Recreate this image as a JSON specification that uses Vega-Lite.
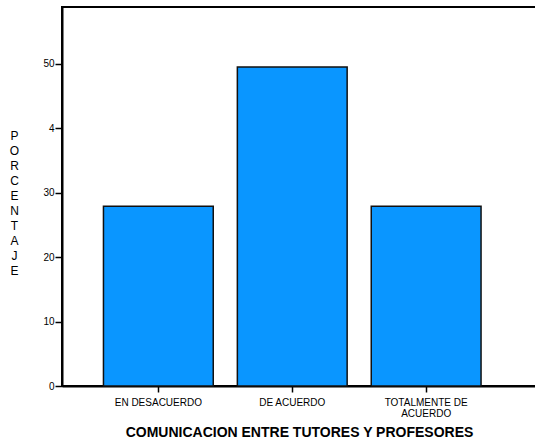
{
  "$schema": "https://vega.github.io/schema/vega-lite/v6.json",
  "autosize": {"type": "none"},
  "width": 474,
  "height": 379,
  "padding": {"left": 62, "top": 7, "right": 0, "bottom": 55},
  "background": "white",
  "data": {"values": [
    {"categoria": "EN DESACUERDO", "porcentaje": 27.9},
    {"categoria": "DE ACUERDO", "porcentaje": 49.5},
    {"categoria": "TOTALMENTE DE ACUERDO", "porcentaje": 27.9}
  ]},
  "config": {
    "font": "Liberation Sans",
    "view": {"stroke": "black", "strokeWidth": 2}
  },
  "mark": {"type": "bar", "color": "#0A96FF", "stroke": "#111111", "strokeWidth": 1.5},
  "encoding": {
    "x": {
      "field": "categoria", "type": "nominal", "sort": null,
      "scale": {"paddingInner": 0.18, "paddingOuter": 0.36, "align": 0.43},
      "axis": {
        "title": "COMUNICACION ENTRE TUTORES Y PROFESORES",
        "titleFont": "Liberation Sans", "titleFontSize": 14, "titleFontWeight": "bold", "titleColor": "black",
        "titlePadding": 7,
        "labelAngle": 0, "labelFontSize": 10, "labelColor": "black", "labelPadding": 5,
        "labelExpr": "datum.value == 'TOTALMENTE DE ACUERDO' ? ['TOTALMENTE DE', 'ACUERDO'] : datum.value",
        "labelLineHeight": 11,
        "domainColor": "black", "domainWidth": 2,
        "tickColor": "black", "tickWidth": 1.5, "tickSize": 6
      }
    },
    "y": {
      "field": "porcentaje", "type": "quantitative",
      "scale": {"domain": [0, 58.8], "nice": false},
      "axis": {
        "title": ["P", "O", "R", "C", "E", "N", "T", "A", "J", "E"],
        "titleAngle": 0, "titleFontSize": 12, "titleFontWeight": "normal", "titleColor": "black",
        "titleLineHeight": 15, "titleX": -48, "titleY": 123, "titleAlign": "center", "titleBaseline": "top",
        "values": [0, 10, 20, 30, 40, 50],
        "labelExpr": "datum.value == 40 ? '4' : datum.label",
        "labelFontSize": 10, "labelColor": "black", "labelPadding": 1,
        "grid": false,
        "domainColor": "black", "domainWidth": 2,
        "tickColor": "black", "tickWidth": 1.5, "tickSize": 7
      }
    }
  }
}
